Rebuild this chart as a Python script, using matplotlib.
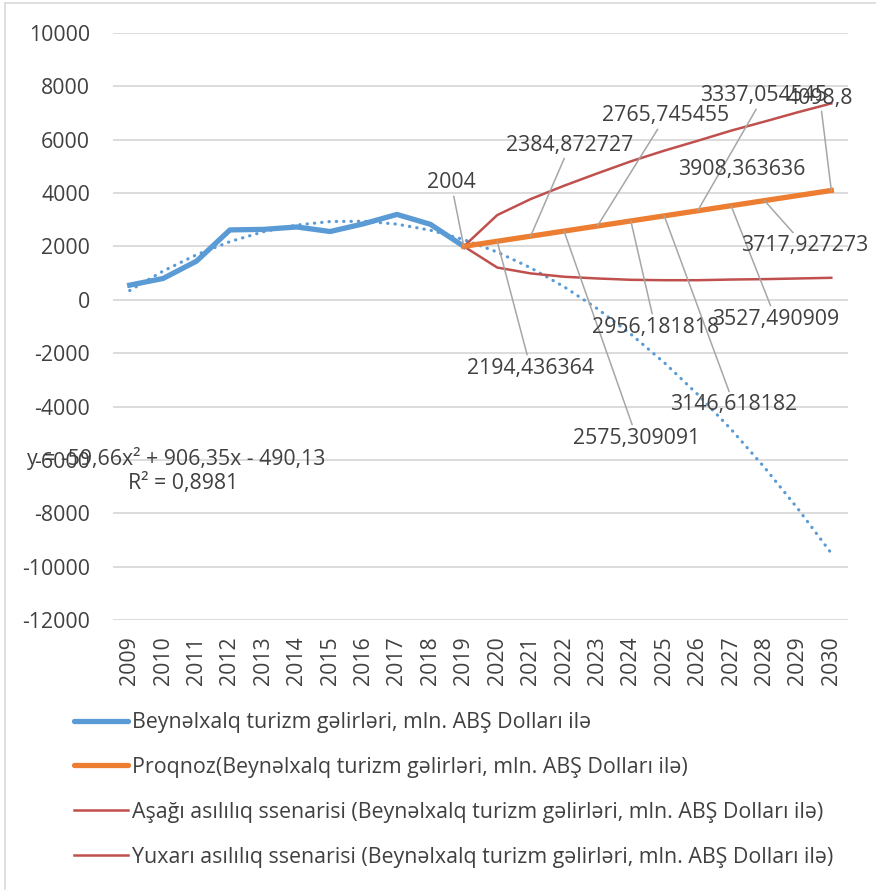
import numpy as np
import matplotlib

matplotlib.use("Agg")

import matplotlib.pyplot as plt  # noqa: E402
from matplotlib.lines import Line2D  # noqa: E402

plt.rcParams["font.family"] = ["Open Sans", "DejaVu Sans"]
plt.rcParams["axes.unicode_minus"] = False

# ---------------------------------------------------------------------------
# data
# ---------------------------------------------------------------------------
years = [str(y) for y in range(2009, 2031)]

# faktiki gəlirlər 2009-2019
actual = [550, 800, 1450, 2620, 2640, 2730, 2560, 2850, 3200, 2830, 2004]

# proqnoz 2019-2030
forecast = [2004, 2194.436364, 2384.872727, 2575.309091, 2765.745455,
            2956.181818, 3146.618182, 3337.054545, 3527.490909,
            3717.927273, 3908.363636, 4098.8]
forecast_labels = ["2004", "2194,436364", "2384,872727", "2575,309091",
                   "2765,745455", "2956,181818", "3146,618182",
                   "3337,054545", "3527,490909", "3717,927273",
                   "3908,363636", "4098,8"]

# ssenarilər 2019-2030
lower = [2004, 1210, 990, 865, 800, 750, 735, 735, 760, 775, 800, 825]
upper = [2004, 3175, 3775, 4275, 4740, 5190, 5590, 5960, 6340, 6680, 7030, 7360]

legend_labels = [
    "Beynəlxalq turizm gəlirləri, mln. ABŞ Dolları ilə",
    "Proqnoz(Beynəlxalq turizm gəlirləri, mln. ABŞ Dolları ilə)",
    "Aşağı asılılıq ssenarisi (Beynəlxalq turizm gəlirləri, mln. ABŞ Dolları ilə)",
    "Yuxarı asılılıq ssenarisi (Beynəlxalq turizm gəlirləri, mln. ABŞ Dolları ilə)",
]

# label text positions (category index, value) -- layout only
label_pos = [(9.62, 4380), (12.0, -2560), (13.18, 5800), (15.18, -5180),
             (16.05, 6890), (15.73, -1020), (18.09, -3940), (18.98, 7640),
             (19.34, -720), (20.21, 2020), (18.33, 4870), (20.66, 7560)]
leader = [True] * 10 + [False, True]

BLUE = "#5B9BD5"
ORANGE = "#ED7D31"
RED = "#C0504D"
GRID = "#D9D9D9"
TXT = "#404040"
FS = 15.3

# ---------------------------------------------------------------------------
fig = plt.figure(figsize=(8.76, 8.90), dpi=100)
ax = fig.add_axes([113 / 876, 1 - 620 / 890, 735 / 876, 587 / 890])

x_act = np.arange(len(actual))
x_fc = np.arange(len(actual) - 1, len(years))

# polinomial trend (2-ci dərəcə), Excel kimi
coef = np.polyfit(x_act + 1, actual, 2)
x_all = np.arange(len(years))
trend = np.polyval(coef, x_all + 1)

ax.plot(x_all, trend, color=BLUE, lw=2.3, ls=(0, (0.1, 2.2)),
        dash_capstyle="round", zorder=3)
ax.plot(x_act, actual, color=BLUE, lw=3.8, solid_joinstyle="round", zorder=4)
ax.plot(x_fc, lower, color=RED, lw=1.8, zorder=4)
ax.plot(x_fc, upper, color=RED, lw=1.8, zorder=4)
ax.plot(x_fc, forecast, color=ORANGE, lw=3.8, zorder=5)

for xi, val, txt, pos, has_line in zip(x_fc, forecast, forecast_labels,
                                       label_pos, leader):
    ax.annotate(txt, xy=(xi, val), xytext=pos, ha="center", va="center",
                fontsize=FS, color=TXT, zorder=6,
                arrowprops=dict(arrowstyle="-", color="#A6A6A6", lw=1.1,
                                shrinkA=0, shrinkB=0) if has_line else None)

ax.text(1.4, -5930, "y = -59,66x² + 906,35x - 490,13", ha="center",
        va="center", fontsize=FS, color=TXT, zorder=6)
ax.text(1.6, -6870, "R² = 0,8981", ha="center", va="center",
        fontsize=FS, color=TXT, zorder=6)

ax.set_xlim(-0.5, len(years) - 0.5)
ax.set_ylim(-12000, 10000)
ax.set_yticks(np.arange(-12000, 10001, 2000))
ax.set_xticks(x_all)
ax.set_xticklabels(years, rotation=90)
ax.tick_params(axis="y", length=0, pad=16.5, labelsize=FS, labelcolor=TXT)
ax.tick_params(axis="x", length=0, pad=12, labelsize=FS, labelcolor=TXT)
ax.grid(axis="y", color=GRID, lw=1.3)
ax.set_axisbelow(True)
for s in ax.spines.values():
    s.set_visible(False)

LFS = 15.4
handles = [Line2D([], [], color=BLUE, lw=3.8, solid_capstyle="round"),
           Line2D([], [], color=ORANGE, lw=3.8, solid_capstyle="round"),
           Line2D([], [], color=RED, lw=1.8),
           Line2D([], [], color=RED, lw=1.8)]
leg = fig.legend(handles, legend_labels, loc="upper left",
                 bbox_to_anchor=(74 / 876, 1 - 712 / 890), frameon=False,
                 fontsize=LFS, handlelength=2.52, handletextpad=0.19,
                 labelspacing=1.12, borderpad=0, borderaxespad=0)
for t in leg.get_texts():
    t.set_color(TXT)

# chart area border (left and top visible)
fig.add_artist(Line2D([5 / 876, 5 / 876], [0, 1 - 3 / 890], color=GRID,
                      lw=1.2, transform=fig.transFigure))
fig.add_artist(Line2D([5 / 876, 1], [1 - 3 / 890, 1 - 3 / 890], color=GRID,
                      lw=1.2, transform=fig.transFigure))

fig.savefig("out.png", dpi=100)
